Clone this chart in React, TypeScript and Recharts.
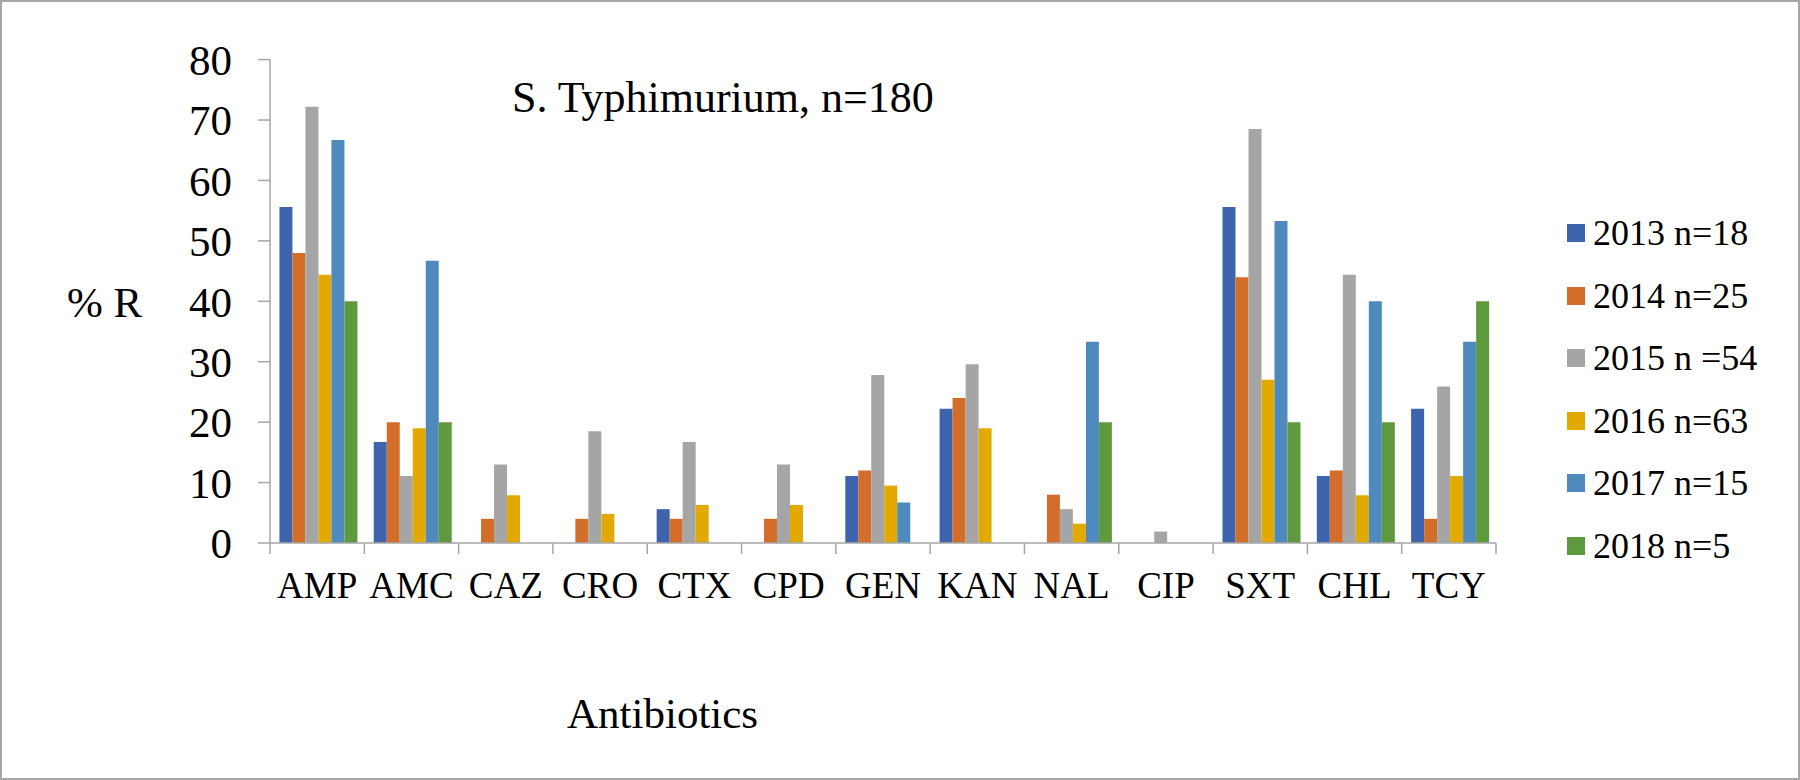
import React from 'react';
import { BarChart, Bar, XAxis, YAxis, Legend, Customized } from 'recharts';

const CATEGORIES = ['AMP', 'AMC', 'CAZ', 'CRO', 'CTX', 'CPD', 'GEN', 'KAN', 'NAL', 'CIP', 'SXT', 'CHL', 'TCY'];
const SERIES_NAMES = ['2013 n=18', '2014 n=25', '2015 n =54', '2016 n=63', '2017 n=15', '2018 n=5'];
const Y2013 = [55.6, 16.7, 0, 0, 5.6, 0, 11.1, 22.2, 0, 0, 55.6, 11.1, 22.2];
const Y2014 = [48, 20, 4, 4, 4, 4, 12, 24, 8, 0, 44, 12, 4];
const Y2015 = [72.2, 11.1, 13, 18.5, 16.7, 13, 27.8, 29.6, 5.6, 1.9, 68.5, 44.4, 25.9];
const Y2016 = [44.4, 19, 7.9, 4.8, 6.3, 6.3, 9.5, 19, 3.2, 0, 27, 7.9, 11.1];
const Y2017 = [66.7, 46.7, 0, 0, 0, 0, 6.7, 0, 33.3, 0, 53.3, 40, 33.3];
const Y2018 = [40, 20, 0, 0, 0, 0, 0, 0, 20, 0, 20, 20, 40];
const Y_TICKS = [0, 10, 20, 30, 40, 50, 60, 70, 80];
const TITLE = 'S. Typhimurium, n=180';
const Y_LABEL = '% R';
const X_LABEL = 'Antibiotics';

const SERIES_VALUES = [Y2013, Y2014, Y2015, Y2016, Y2017, Y2018];
const COLORS = ['#3D64AD', '#D26E2A', '#A5A5A5', '#E2AA00', '#4E8ABE', '#5F993D'];

const data = CATEGORIES.map((cat, i) => {
  const row: Record<string, any> = { cat };
  SERIES_VALUES.forEach((vals, s) => {
    row['s' + s] = vals[i];
  });
  return row;
});

const FONT = "'Liberation Serif', 'Times New Roman', serif";
const W = 1800;
const H = 780;
const MARGIN = { top: 59.6, right: 304, bottom: 177, left: 210 };
const Y_AXIS_W = 60;
const X_AXIS_H = 60;
const PLOT_LEFT = MARGIN.left + Y_AXIS_W;
const PLOT_W = W - MARGIN.right - PLOT_LEFT;
const AXIS_Y = H - MARGIN.bottom - X_AXIS_H;
const BAND = PLOT_W / CATEGORIES.length;
const AXIS_COLOR = '#A6A6A6';

const CatTick = (props: any) => {
  const { x, payload, index } = props;
  const last = index === CATEGORIES.length - 1;
  return (
    <g>
      <line x1={x - BAND / 2} y1={AXIS_Y} x2={x - BAND / 2} y2={AXIS_Y + 11} stroke={AXIS_COLOR} strokeWidth={1.5} />
      {last && (
        <line x1={x + BAND / 2} y1={AXIS_Y} x2={x + BAND / 2} y2={AXIS_Y + 11} stroke={AXIS_COLOR} strokeWidth={1.5} />
      )}
      <text x={x} y={AXIS_Y + 55} textAnchor="middle" fontFamily={FONT} fontSize={37} fill="#000">
        {payload.value}
      </text>
    </g>
  );
};

const renderLegend = (props: any) => {
  const payload = props.payload || [];
  return (
    <div style={{ fontFamily: FONT }}>
      {payload.map((p: any, i: number) => (
        <div key={i} style={{ display: 'flex', alignItems: 'center', height: 62.6 }}>
          <div style={{ width: 18, height: 18, background: p.color, marginRight: 8, flex: '0 0 auto' }} />
          <span style={{ fontSize: 36, lineHeight: 1, color: '#000', whiteSpace: 'nowrap' }}>{p.value}</span>
        </div>
      ))}
    </div>
  );
};

const Texts = () => (
  <g fontFamily={FONT} fill="#000">
    <text x={512} y={111.5} fontSize={44}>{TITLE}</text>
    <text x={67} y={316.5} fontSize={43}>{Y_LABEL}</text>
    <text x={567} y={728} fontSize={43}>{X_LABEL}</text>
  </g>
);

export default function App() {
  return (
    <div style={{ position: 'absolute', left: 0, top: 0, width: W, height: H, background: '#fff' }}>
      <BarChart
        width={W}
        height={H}
        data={data}
        margin={MARGIN}
        barCategoryGap="10%"
        barGap={0}
      >
        <XAxis
          dataKey="cat"
          height={X_AXIS_H}
          interval={0}
          axisLine={{ stroke: AXIS_COLOR, strokeWidth: 1.5 }}
          tickLine={false}
          tick={<CatTick />}
        />
        <YAxis
          width={Y_AXIS_W}
          domain={[0, 80]}
          ticks={Y_TICKS}
          interval={0}
          tickSize={12}
          tickMargin={26}
          axisLine={{ stroke: AXIS_COLOR, strokeWidth: 1.5 }}
          tickLine={{ stroke: AXIS_COLOR, strokeWidth: 1.5 }}
          tick={{ fontSize: 43, fill: '#000', fontFamily: FONT }}
        />
        <Legend
          layout="vertical"
          align="center"
          verticalAlign="middle"
          content={renderLegend}
          wrapperStyle={{ position: 'absolute', left: 1567, top: 201.7, width: 230, height: 376 }}
        />
        {SERIES_NAMES.map((name, s) => (
          <Bar key={name} dataKey={'s' + s} name={name} fill={COLORS[s]} isAnimationActive={false} />
        ))}
        <Customized component={Texts} />
      </BarChart>
      <div
        style={{
          position: 'absolute',
          left: 0,
          top: 0,
          width: W,
          height: H,
          boxSizing: 'border-box',
          border: '2px solid #A6A6A6',
          pointerEvents: 'none',
        }}
      />
    </div>
  );
}
